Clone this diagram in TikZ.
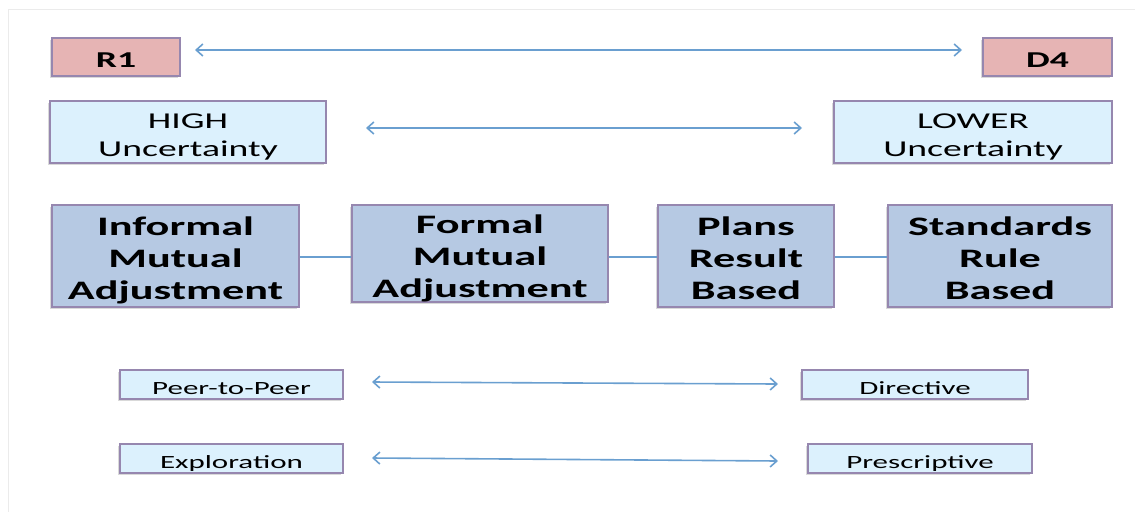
\documentclass[tikz,border=0pt]{standalone}
\usepackage{fontspec}
\setmainfont{Carlito}[FakeStretch=1.66]
\usetikzlibrary{arrows.meta,shadows}
\definecolor{pinkfill}{RGB}{230,180,180}
\definecolor{lightfill}{RGB}{220,241,253}
\definecolor{mainfill}{RGB}{182,201,227}
\definecolor{boxline}{RGB}{150,135,175}
\definecolor{arrowc}{RGB}{106,159,208}
\newcommand\boxtext[1]{\raisebox{0pt}[\dimexpr\height+4pt\relax][\dimexpr\depth-4pt\relax]{\begin{tabular}{@{}c@{}}#1\end{tabular}}}
\tikzset{
  px/.style={x=0.75pt,y=-0.75pt},
  basebox/.style={draw=boxline, line width=0.8pt, inner sep=0pt, align=center,
    drop shadow={shadow xshift=-1.2pt, shadow yshift=-1.5pt, opacity=0.3, fill=black!50}},
  rbox/.style={basebox, fill=pinkfill, font=\fontsize{17}{19}\selectfont\bfseries},
  ubox/.style={basebox, fill=lightfill, font=\fontsize{17}{21}\selectfont},
  mbox/.style={basebox, fill=mainfill, font=\fontsize{20}{24}\selectfont\bfseries},
  sbox/.style={basebox, fill=lightfill, font=\fontsize{14}{16}\selectfont},
  biarrow/.style={draw=arrowc, line width=1.2pt, {Straight Barb[length=5pt,width=9pt]}-{Straight Barb[length=5pt,width=9pt]}},
  link/.style={draw=arrowc, line width=1.2pt}
}
\begin{document}
\begin{tikzpicture}[px]
\useasboundingbox (0,0) rectangle (1135,512);
\draw[black!8, line width=0.6pt] (8,9) -- (1135,9);
\draw[black!8, line width=0.6pt] (8,9) -- (8,512);
% row 1
\node[rbox, minimum width=128*0.75pt, minimum height=38*0.75pt] (r1) at (116,57) {\boxtext{R1}};
\node[rbox, minimum width=129*0.75pt, minimum height=38*0.75pt] (d4) at (1047.5,57) {\boxtext{D4}};
\coordinate (a1) at (195,50);
\coordinate (a2) at (962,50);
\draw[biarrow] (a1) -- (a2);
% row 2
\node[ubox, minimum width=276*0.75pt, minimum height=62*0.75pt] (high) at (188,132) {\boxtext{HIGH\\Uncertainty}};
\node[ubox, minimum width=278*0.75pt, minimum height=62*0.75pt] (low) at (973,132) {\boxtext{LOWER\\Uncertainty}};
\coordinate (b1) at (366,128);
\coordinate (b2) at (802,128);
\draw[biarrow] (b1) -- (b2);
% row 3
\node[mbox, minimum width=247*0.75pt, minimum height=102*0.75pt] (inf) at (175.5,256) {\boxtext{Informal\\Mutual\\Adjustment}};
\node[mbox, minimum width=256*0.75pt, minimum height=97*0.75pt] (form) at (480,253.5) {\boxtext{Formal\\Mutual\\Adjustment}};
\node[mbox, minimum width=176*0.75pt, minimum height=102*0.75pt] (plans) at (746,256) {\boxtext{Plans\\Result\\Based}};
\node[mbox, minimum width=224*0.75pt, minimum height=102*0.75pt] (std) at (1000,256) {\boxtext{Standards\\Rule\\Based}};
\draw[link] (inf.east |- 0,257) -- (form.west |- 0,257);
\draw[link] (form.east |- 0,257) -- (plans.west |- 0,257);
\draw[link] (plans.east |- 0,257) -- (std.west |- 0,257);
% row 4
\node[sbox, minimum width=223*0.75pt, minimum height=29*0.75pt] (peer) at (231.5,384.5) {\boxtext{Peer-to-Peer}};
\node[sbox, minimum width=226*0.75pt, minimum height=29*0.75pt] (dir) at (915,384.5) {\boxtext{Directive}};
\coordinate (c1) at (372,382);
\coordinate (c2) at (778,384);
\draw[biarrow] (c1) -- (c2);
% row 5
\node[sbox, minimum width=223*0.75pt, minimum height=29*0.75pt] (expl) at (231.5,458.5) {\boxtext{Exploration}};
\node[sbox, minimum width=224*0.75pt, minimum height=29*0.75pt] (pres) at (920,458.5) {\boxtext{Prescriptive}};
\coordinate (d1) at (372,458);
\coordinate (d2) at (778,461);
\draw[biarrow] (d1) -- (d2);
\end{tikzpicture}
\end{document}
